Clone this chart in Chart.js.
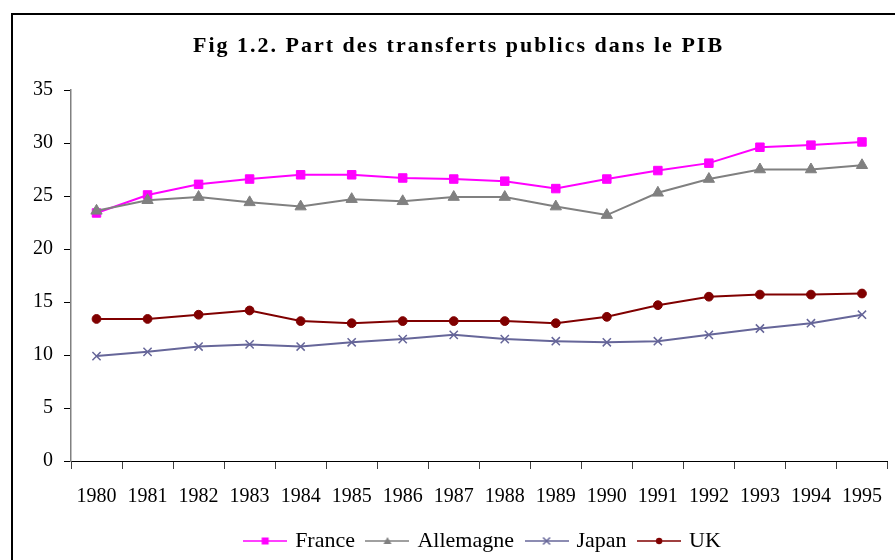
<!DOCTYPE html>
<html>
<head>
<meta charset="utf-8">
<script src="https://cdn.jsdelivr.net/npm/chart.js@4"></script>
<style>
  html, body { margin: 0; padding: 0; background: #fff; overflow: hidden; }
  #wrap { position: relative; width: 895px; height: 560px; overflow: hidden; }
  #frame { position: absolute; left: 11px; top: 13px; width: 900px; height: 600px; border-left: 2px solid #000; border-top: 2px solid #000; box-sizing: border-box; }
  canvas { position: absolute; left: 0; top: 0; }
</style>
</head>
<body>
<div id="wrap">
  <div id="frame"></div>
  <canvas id="c" width="895" height="562"></canvas>
</div>
<script>
const titleText = "Fig 1.2. Part des transferts publics dans le PIB";
const years = ["1980","1981","1982","1983","1984","1985","1986","1987","1988","1989","1990","1991","1992","1993","1994","1995"];
const france    = [23.4, 25.1, 26.1, 26.6, 27.0, 27.0, 26.7, 26.6, 26.4, 25.7, 26.6, 27.4, 28.1, 29.6, 29.8, 30.1];
const allemagne = [23.6, 24.6, 24.9, 24.4, 24.0, 24.7, 24.5, 24.9, 24.9, 24.0, 23.2, 25.3, 26.6, 27.5, 27.5, 27.9];
const japan     = [9.9, 10.3, 10.8, 11.0, 10.8, 11.2, 11.5, 11.9, 11.5, 11.3, 11.2, 11.3, 11.9, 12.5, 13.0, 13.8];
const uk        = [13.4, 13.4, 13.8, 14.2, 13.2, 13.0, 13.2, 13.2, 13.2, 13.0, 13.6, 14.7, 15.5, 15.7, 15.7, 15.8];
const seriesNames = ["France", "Allemagne", "Japan", "UK"];
const yMin = 0, yMax = 35, yStep = 5;

const FONT = "'Liberation Serif', 'Times New Roman', serif";
Chart.defaults.font.family = FONT;
Chart.defaults.color = '#000';

function legendIcon(color, style) {
  const c = document.createElement('canvas');
  c.width = 44; c.height = 12;
  const g = c.getContext('2d');
  g.strokeStyle = color; g.fillStyle = color; g.lineWidth = 1.5;
  g.beginPath(); g.moveTo(0, 6); g.lineTo(44, 6); g.stroke();
  const cx = 22, cy = 6;
  if (style === 'rect') { g.fillRect(cx - 3.5, cy - 3.5, 7, 7); }
  else if (style === 'triangle') { g.beginPath(); g.moveTo(cx, cy - 4); g.lineTo(cx + 4, cy + 3); g.lineTo(cx - 4, cy + 3); g.closePath(); g.fill(); }
  else if (style === 'crossRot') { g.lineWidth = 1.5; g.beginPath(); g.moveTo(cx - 3.5, cy - 3.5); g.lineTo(cx + 3.5, cy + 3.5); g.moveTo(cx + 3.5, cy - 3.5); g.lineTo(cx - 3.5, cy + 3.5); g.stroke(); }
  else if (style === 'circle') { g.beginPath(); g.arc(cx, cy, 3.2, 0, Math.PI * 2); g.fill(); }
  return c;
}

const colors = ['#FF00FF', '#808080', '#666699', '#800000'];
const styles = ['rect', 'triangle', 'crossRot', 'circle'];
const radii = [6, 6.5, 5.8, 4.4];
const values = [france, allemagne, japan, uk];
const orders = [2, 1, 3, 0];

const datasets = values.map((v, i) => ({
  label: seriesNames[i],
  data: v,
  borderColor: colors[i],
  backgroundColor: colors[i],
  pointBackgroundColor: colors[i],
  pointBorderColor: colors[i],
  pointStyle: styles[i],
  pointRadius: radii[i],
  pointHoverRadius: radii[i],
  pointBorderWidth: styles[i] === 'crossRot' ? 1.5 : 1,
  borderWidth: 2,
  tension: 0,
  fill: false,
  order: orders[i]
}));

const tweaks = {
  id: 'tweaks',
  afterInit(chart) {
    const t = chart.titleBlock;
    if (t) {
      const orig = t.draw.bind(t);
      t.draw = function () {
        const ctx = this.ctx;
        ctx.save();
        ctx.translate(13, 0);
        ctx.letterSpacing = '2px';
        orig();
        ctx.restore();
      };
    }
  },
  afterLayout(chart) {
    if (chart.legend) { chart.legend.left += 38; chart.legend.right += 38; }
  }
};

new Chart(document.getElementById('c'), {
  type: 'line',
  data: { labels: years, datasets },
  plugins: [tweaks],
  options: {
    responsive: false,
    animation: false,
    devicePixelRatio: 1,
    layout: { padding: { left: 0, right: 4, top: 0, bottom: 0 } },
    plugins: {
      tooltip: { enabled: false },
      title: {
        display: true,
        text: titleText,
        color: '#000',
        font: { family: FONT, size: 22, weight: 'bold' },
        padding: { top: 33, bottom: 30.6 }
      },
      legend: {
        display: true,
        position: 'bottom',
        labels: {
          usePointStyle: true,
          pointStyleWidth: 38,
          boxHeight: 12,
          padding: 13.5,
          color: '#000',
          font: { family: FONT, size: 22 },
          generateLabels(chart) {
            return chart.data.datasets.map((ds, i) => ({
              text: ds.label,
              fillStyle: ds.borderColor,
              strokeStyle: ds.borderColor,
              lineWidth: 0,
              pointStyle: legendIcon(ds.borderColor, styles[i]),
              hidden: false,
              datasetIndex: i,
              fontColor: '#000'
            }));
          }
        }
      }
    },
    scales: {
      x: {
        type: 'category',
        offset: true,
        grid: { display: true, offset: true, drawOnChartArea: false, drawTicks: true, tickLength: 8, color: '#404040', lineWidth: 1 },
        border: { display: true, color: '#000', width: 1 },
        ticks: { color: '#000', font: { family: FONT, size: 20, lineHeight: 2.2 }, padding: 6, maxRotation: 0, autoSkip: false },
        afterFit(scale) { scale.height = 55.5; }
      },
      y: {
        min: yMin, max: yMax,
        grid: { display: true, drawOnChartArea: false, drawTicks: true, tickLength: 7, color: '#000', lineWidth: 1 },
        border: { display: true, color: '#808080', width: 1.5 },
        ticks: { stepSize: yStep, color: '#000', font: { family: FONT, size: 20 }, padding: 11 },
        afterFit(scale) { scale.width = 71; }
      }
    }
  }
});
</script>
</body>
</html>
